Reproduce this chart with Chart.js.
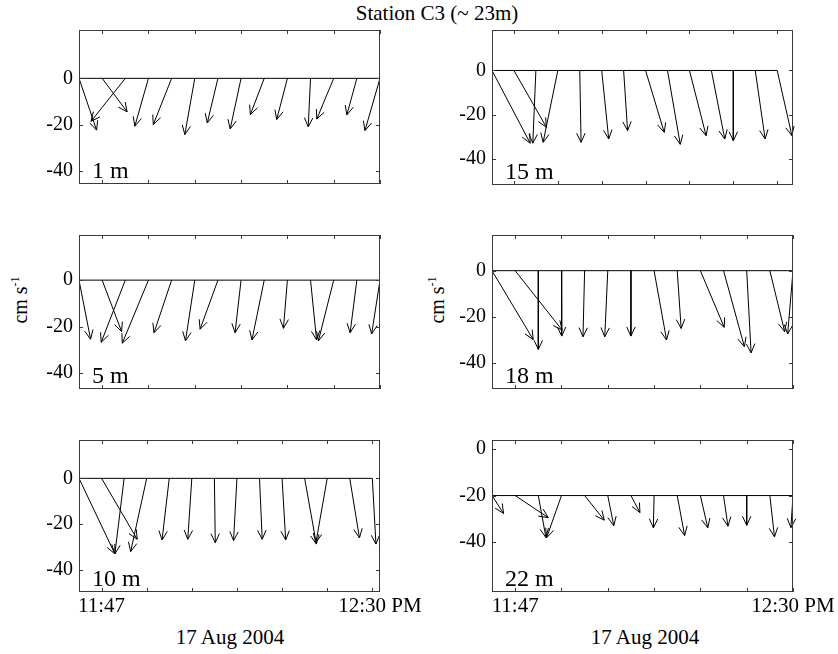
<!DOCTYPE html>
<html><head><meta charset="utf-8">
<script src="https://cdn.jsdelivr.net/npm/chart.js@4/dist/chart.umd.min.js"></script>
<style>
html,body{margin:0;padding:0;background:#fff;}
body{width:838px;height:654px;position:relative;overflow:hidden;font-family:'Liberation Serif','Times New Roman',serif;color:#000;}
canvas{position:absolute;}
.t{position:absolute;white-space:nowrap;color:#000;line-height:22px;}
.rot{transform:translate(-50%,-50%) rotate(-90deg);}
sup{font-size:12px;vertical-align:8px;line-height:0;}
</style></head><body>
<div class="t" style="left:0;width:874px;top:2px;text-align:center;font-size:21px;">Station C3 (~ 23m)</div>
<div class="t rot" style="left:20px;top:300px;font-size:20px;">cm s<sup>-1</sup></div>
<div class="t rot" style="left:437px;top:300px;font-size:20px;">cm s<sup>-1</sup></div>
<div class="t" style="left:130px;width:200px;top:626px;text-align:center;font-size:21px;">17 Aug 2004</div>
<div class="t" style="left:545px;width:200px;top:626px;text-align:center;font-size:21px;">17 Aug 2004</div>
<script>
// ---- data (cm/s) ----
const sampleIdx = [0,1,2,3,4,5,6,7,8,9,10,11,12,13];
const timeTickLabels = ['11:47', '12:30 PM'];
const yTicks = [0, -20, -40];
const depthLabels = ['1 m', '15 m', '5 m', '18 m', '10 m', '22 m'];
const baselines = [0, 0, 0, 0, 0, -20];

const u1  = [7.6, 10.8, -14.8, -5.9, -7.9, -4.3, -4.6, -4.7, -6.0, -4.6, -1.0, -7.3, -4.3, -6.5];
const v1  = [-22.4, -14.5, -18.6, -20.7, -20.0, -24.3, -19.3, -21.9, -15.7, -17.8, -21.0, -17.6, -15.8, -22.6];
const u15 = [17.4, 14.8, -1.4, -6.7, 0.6, 3.2, 1.8, 8.5, 5.8, 7.6, 6.1, 0.0, 4.5, 6.7];
const v15 = [-32.9, -25.7, -32.9, -32.5, -32.5, -31.0, -27.2, -28.0, -33.4, -29.5, -31.0, -31.8, -31.0, -29.5];
const u5  = [5.0, 8.4, -10.4, -11.3, -7.6, -4.0, -7.7, -2.6, -5.3, -1.7, 2.6, -6.6, -2.9, -3.6];
const v5  = [-25.4, -22.1, -26.7, -27.1, -22.6, -26.1, -21.1, -22.6, -25.7, -20.7, -25.7, -26.1, -22.6, -23.1];
const u18 = [17.8, 20.3, 0.0, 0.1, -0.7, -1.3, 0.0, 5.4, 1.7, 10.3, 9.0, 1.9, 6.4, -2.3];
const v18 = [-29.9, -25.8, -34.2, -28.4, -28.7, -28.7, -28.4, -30.1, -25.1, -24.6, -33.0, -35.7, -26.5, -27.5];
const u10 = [15.9, 15.8, -4.1, -7.1, -3.2, -1.8, 0.4, -1.5, 1.2, 1.6, 5.2, -5.0, 4.3, 1.6];
const v10 = [-33.1, -26.7, -33.1, -32.1, -27.0, -26.7, -28.2, -27.3, -26.7, -27.0, -28.8, -28.2, -26.1, -28.8];
const u22 = [5.0, 14.3, 3.3, -6.4, 8.5, 2.6, 3.9, -0.3, 3.2, 3.2, 1.9, 0.0, 2.0, -0.9];
const v22 = [-7.7, -9.5, -18.1, -18.1, -10.6, -13.0, -7.3, -13.9, -17.2, -13.9, -13.2, -12.8, -17.8, -13.8];

// horizontal scaling: sample-index units per cm/s (keeps true direction)
const K = 0.1;

const panels = [
  {u:u1,  v:v1,  left:79,  top:30,  w:301, h:154, ymin:-45.7, ymax:20.9, xmax:13,    showX:false},
  {u:u15, v:v15, left:492, top:29.5,w:301, h:155, ymin:-51.8, ymax:18.3, xmax:13.72, showX:false},
  {u:u5,  v:v5,  left:79,  top:235, w:301, h:154, ymin:-46.8, ymax:19.4, xmax:13,    showX:false},
  {u:u18, v:v18, left:492, top:235, w:301, h:154, ymin:-51.4, ymax:15.5, xmax:13,    showX:false},
  {u:u10, v:v10, left:79,  top:440, w:301, h:152, ymin:-49.8, ymax:16.8, xmax:13.34, showX:true},
  {u:u22, v:v22, left:492, top:440, w:301, h:152, ymin:-61.5, ymax:3.9,  xmax:13,    showX:true},
];

const FONT = "'Liberation Serif', 'Times New Roman', serif";
const xTickMarks = [1,3,5,7,9,11,13];

const framePlugin = {
  id: 'frame',
  afterDatasetsDraw(chart, args, opts) {
    const {ctx, chartArea: a, scales: {x, y}} = chart;
    const p = opts.panel;
    ctx.save();
    // arrow heads
    ctx.strokeStyle = '#000'; ctx.lineWidth = 1;
    const L = 10, th = 25 * Math.PI / 180;
    for (let i = 0; i < p.u.length; i++) {
      const x0 = x.getPixelForValue(sampleIdx[i]), y0 = y.getPixelForValue(p.base);
      const x1 = x.getPixelForValue(sampleIdx[i] + p.u[i] * K), y1 = y.getPixelForValue(p.base + p.v[i]);
      const ang = Math.atan2(y1 - y0, x1 - x0);
      ctx.beginPath();
      ctx.moveTo(x1 - L * Math.cos(ang - th), y1 - L * Math.sin(ang - th));
      ctx.lineTo(x1, y1);
      ctx.lineTo(x1 - L * Math.cos(ang + th), y1 - L * Math.sin(ang + th));
      ctx.stroke();
    }
    // box
    ctx.strokeStyle = '#3a3a3a'; ctx.lineWidth = 1;
    ctx.strokeRect(Math.round(a.left) + 0.5, Math.round(a.top) + 0.5, Math.round(a.right - a.left) - 1, Math.round(a.bottom - a.top) - 1);
    // inward ticks
    const tl = 4;
    ctx.beginPath();
    xTickMarks.forEach(t => {
      if (t > p.xmax) return;
      const px = Math.round(x.getPixelForValue(t)) + 0.5;
      ctx.moveTo(px, a.top); ctx.lineTo(px, a.top + tl);
      ctx.moveTo(px, a.bottom); ctx.lineTo(px, a.bottom - tl);
    });
    yTicks.forEach(t => {
      if (t < p.ymin || t > p.ymax) return;
      const py = Math.round(y.getPixelForValue(t)) + 0.5;
      ctx.moveTo(a.left, py); ctx.lineTo(a.left + tl, py);
      ctx.moveTo(a.right, py); ctx.lineTo(a.right - tl, py);
    });
    ctx.stroke();
    // depth label
    ctx.fillStyle = '#000';
    ctx.font = '24px ' + FONT;
    ctx.textBaseline = 'alphabetic';
    ctx.textAlign = 'left';
    ctx.fillText(p.label, a.left + 13, a.bottom - 6);
    ctx.restore();
  }
};

function makePanel(p, idx) {
  p.base = baselines[idx];
  p.label = depthLabels[idx];
  const padL = 70, padR = 60, padT = 24, padB = 40;
  const W = p.w + padL + padR, H = p.h + padT + padB;
  const cv = document.createElement('canvas');
  cv.width = W; cv.height = H;
  cv.style.left = (p.left - padL) + 'px';
  cv.style.top = (p.top - padT) + 'px';
  cv.style.width = W + 'px'; cv.style.height = H + 'px';
  document.body.appendChild(cv);

  const shafts = [];
  for (let i = 0; i < p.u.length; i++) {
    shafts.push({x: sampleIdx[i], y: p.base});
    shafts.push({x: sampleIdx[i] + p.u[i] * K, y: p.base + p.v[i]});
    shafts.push({x: sampleIdx[i], y: null});
  }
  // time labels: first at sample 1, last at the right end of the axis
  const timeTickPos = [sampleIdx[1], p.xmax];
  new Chart(cv, {
    type: 'line',
    data: {datasets: [
      {data: [{x: sampleIdx[0], y: p.base}, {x: sampleIdx[sampleIdx.length - 1], y: p.base}],
       borderColor: '#000', borderWidth: 1, pointRadius: 0, tension: 0},
      {data: shafts, borderColor: '#000', borderWidth: 1, pointRadius: 0, tension: 0, spanGaps: false}
    ]},
    options: {
      responsive: false, animation: false, devicePixelRatio: 1,
      layout: {padding: {left: 0, right: padR, top: padT, bottom: 0}},
      plugins: {legend: {display: false}, tooltip: {enabled: false}, frame: {panel: p}},
      scales: {
        x: {
          type: 'linear', min: 0, max: p.xmax,
          grid: {display: false, drawTicks: false}, border: {display: false},
          afterBuildTicks: s => { s.ticks = timeTickPos.map(v => ({value: v})); },
          afterFit: s => { s.height = padB; },
          ticks: {display: p.showX, autoSkip: false, maxRotation: 0, minRotation: 0, padding: 2,
                  color: '#000', font: {family: FONT, size: 21},
                  callback: (val, i) => timeTickLabels[i]}
        },
        y: {
          min: p.ymin, max: p.ymax,
          grid: {display: false, drawTicks: false}, border: {display: false},
          afterBuildTicks: s => { s.ticks = yTicks.map(v => ({value: v})); },
          afterFit: s => { s.width = padL; },
          ticks: {padding: 6, color: '#000', font: {family: FONT, size: 20}}
        }
      }
    },
    plugins: [framePlugin]
  });
}

panels.forEach(makePanel);
</script>
</body></html>
